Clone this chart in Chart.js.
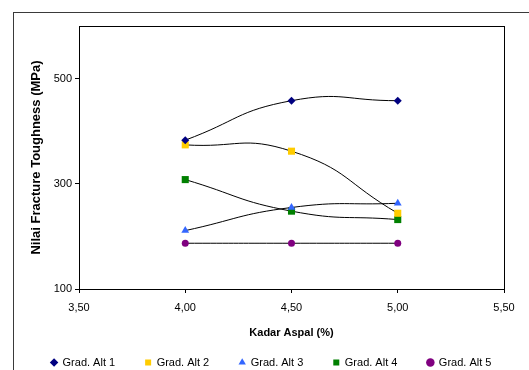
<!DOCTYPE html>
<html>
<head>
<meta charset="utf-8">
<script src="https://cdn.jsdelivr.net/npm/chart.js@4/dist/chart.umd.min.js"></script>
<style>
    html, body { margin: 0; padding: 0; background: #fff; overflow: hidden; }
    #wrap { position: relative; width: 529px; height: 378px; }
    #frame {
        position: absolute; left: 13px; top: 12px;
        width: 600px; height: 420px;
        border-left: 1px solid #3a3a3a; border-top: 1px solid #3a3a3a;
    }
    canvas { position: absolute; left: 0; top: 0; }
</style>
</head>
<body>
<div id="wrap">
    <div id="frame"></div>
    <canvas id="toughChart"></canvas>
</div>
<script>
// Kadar aspal (%) vs nilai fracture toughness (MPa)
const kadarAspal = [4.00, 4.50, 5.00];
const gradAlt1 = [383, 458, 458];
const gradAlt2 = [374, 362, 244];
const gradAlt3 = [211, 255, 263];
const gradAlt4 = [308, 248, 232];
const gradAlt5 = [187, 187, 187];

const seriesNames = ['Grad. Alt 1', 'Grad. Alt 2', 'Grad. Alt 3', 'Grad. Alt 4', 'Grad. Alt 5'];
const seriesValues = [gradAlt1, gradAlt2, gradAlt3, gradAlt4, gradAlt5];

const xTicks = [3.50, 4.00, 4.50, 5.00, 5.50];
const yTicks = [100, 300, 500];

const markerColors = ['#000080', '#FFCC00', '#3366FF', '#008000', '#800080'];
const markerStyles = ['rectRot', 'rect', 'triangle', 'rect', 'circle'];
const markerSizes = [4, 5, 4.5, 5, 3.5];

const FONT = "'Liberation Sans', Arial, sans-serif";

const datasets = seriesNames.map((name, i) => ({
    label: name,
    data: kadarAspal.map((x, j) => ({ x: x, y: seriesValues[i][j] })),
    borderColor: '#000000',
    borderWidth: 1,
    backgroundColor: markerColors[i],
    pointBackgroundColor: markerColors[i],
    pointBorderColor: markerColors[i],
    pointBorderWidth: 0,
    pointStyle: markerStyles[i],
    pointRadius: markerSizes[i],
    tension: 0.5,
    fill: false
}));

// box around the plot area
const plotFrame = {
    id: 'plotFrame',
    afterDatasetsDraw(chart) {
        const { ctx, chartArea: a } = chart;
        ctx.save();
        ctx.strokeStyle = '#000';
        ctx.lineWidth = 1;
        ctx.strokeRect(a.left + 0.5, a.top + 0.5, a.right - a.left, a.bottom - a.top);
        ctx.restore();
    }
};

new Chart(document.getElementById('toughChart'), {
    type: 'line',
    data: { datasets: datasets },
    plugins: [plotFrame],
    options: {
        responsive: true,
        maintainAspectRatio: false,
        animation: false,
        layout: { padding: { left: 13.5, right: 0, top: 26, bottom: 0 } },
        plugins: {
            tooltip: { enabled: false },
            legend: {
                display: true,
                position: 'bottom',
                labels: {
                    color: '#000',
                    font: { family: FONT, size: 11 },
                    usePointStyle: true,
                    boxWidth: 6,
                    boxHeight: 6,
                    padding: 30,
                    generateLabels(chart) {
                        return chart.data.datasets.map((ds, i) => ({
                            text: ds.label,
                            fillStyle: markerColors[i],
                            strokeStyle: markerColors[i],
                            lineWidth: 0,
                            pointStyle: markerStyles[i],
                            datasetIndex: i,
                            hidden: false
                        }));
                    }
                }
            }
        },
        scales: {
            x: {
                type: 'linear',
                min: 3.5,
                max: 5.5,
                afterFit(scale) { scale.height = 38; },
                afterBuildTicks(scale) { scale.ticks = xTicks.map(v => ({ value: v })); },
                grid: { display: true, drawOnChartArea: false, drawTicks: true, tickLength: 4, color: '#000' },
                border: { display: true, color: '#000' },
                ticks: {
                    color: '#000',
                    padding: 8,
                    maxRotation: 0,
                    font: { family: FONT, size: 11 },
                    callback: v => v.toFixed(2).replace('.', ',')
                },
                title: {
                    display: true,
                    text: 'Kadar Aspal (%)',
                    color: '#000',
                    font: { family: FONT, size: 11, weight: 'bold' },
                    padding: { top: 0, bottom: -12.6 }
                }
            },
            y: {
                type: 'linear',
                position: 'left',
                min: 100,
                max: 600,
                afterFit(scale) { scale.width = 65.5; },
                afterBuildTicks(scale) { scale.ticks = yTicks.map(v => ({ value: v })); },
                grid: { display: true, drawOnChartArea: false, drawTicks: true, tickLength: 4, color: '#000' },
                border: { display: true, color: '#000' },
                ticks: {
                    color: '#000',
                    padding: 3,
                    font: { family: FONT, size: 11 }
                },
                title: {
                    display: true,
                    text: 'Nilai Fracture Toughness (MPa)',
                    color: '#000',
                    font: { family: FONT, size: 13, weight: 'bold' },
                    padding: { top: 14.7, bottom: 0 }
                }
            },
            yRight: {
                type: 'linear',
                position: 'right',
                display: true,
                afterFit(scale) { scale.width = 25; },
                grid: { display: false },
                border: { display: false },
                ticks: { display: false }
            }
        }
    }
});
</script>
</body>
</html>
